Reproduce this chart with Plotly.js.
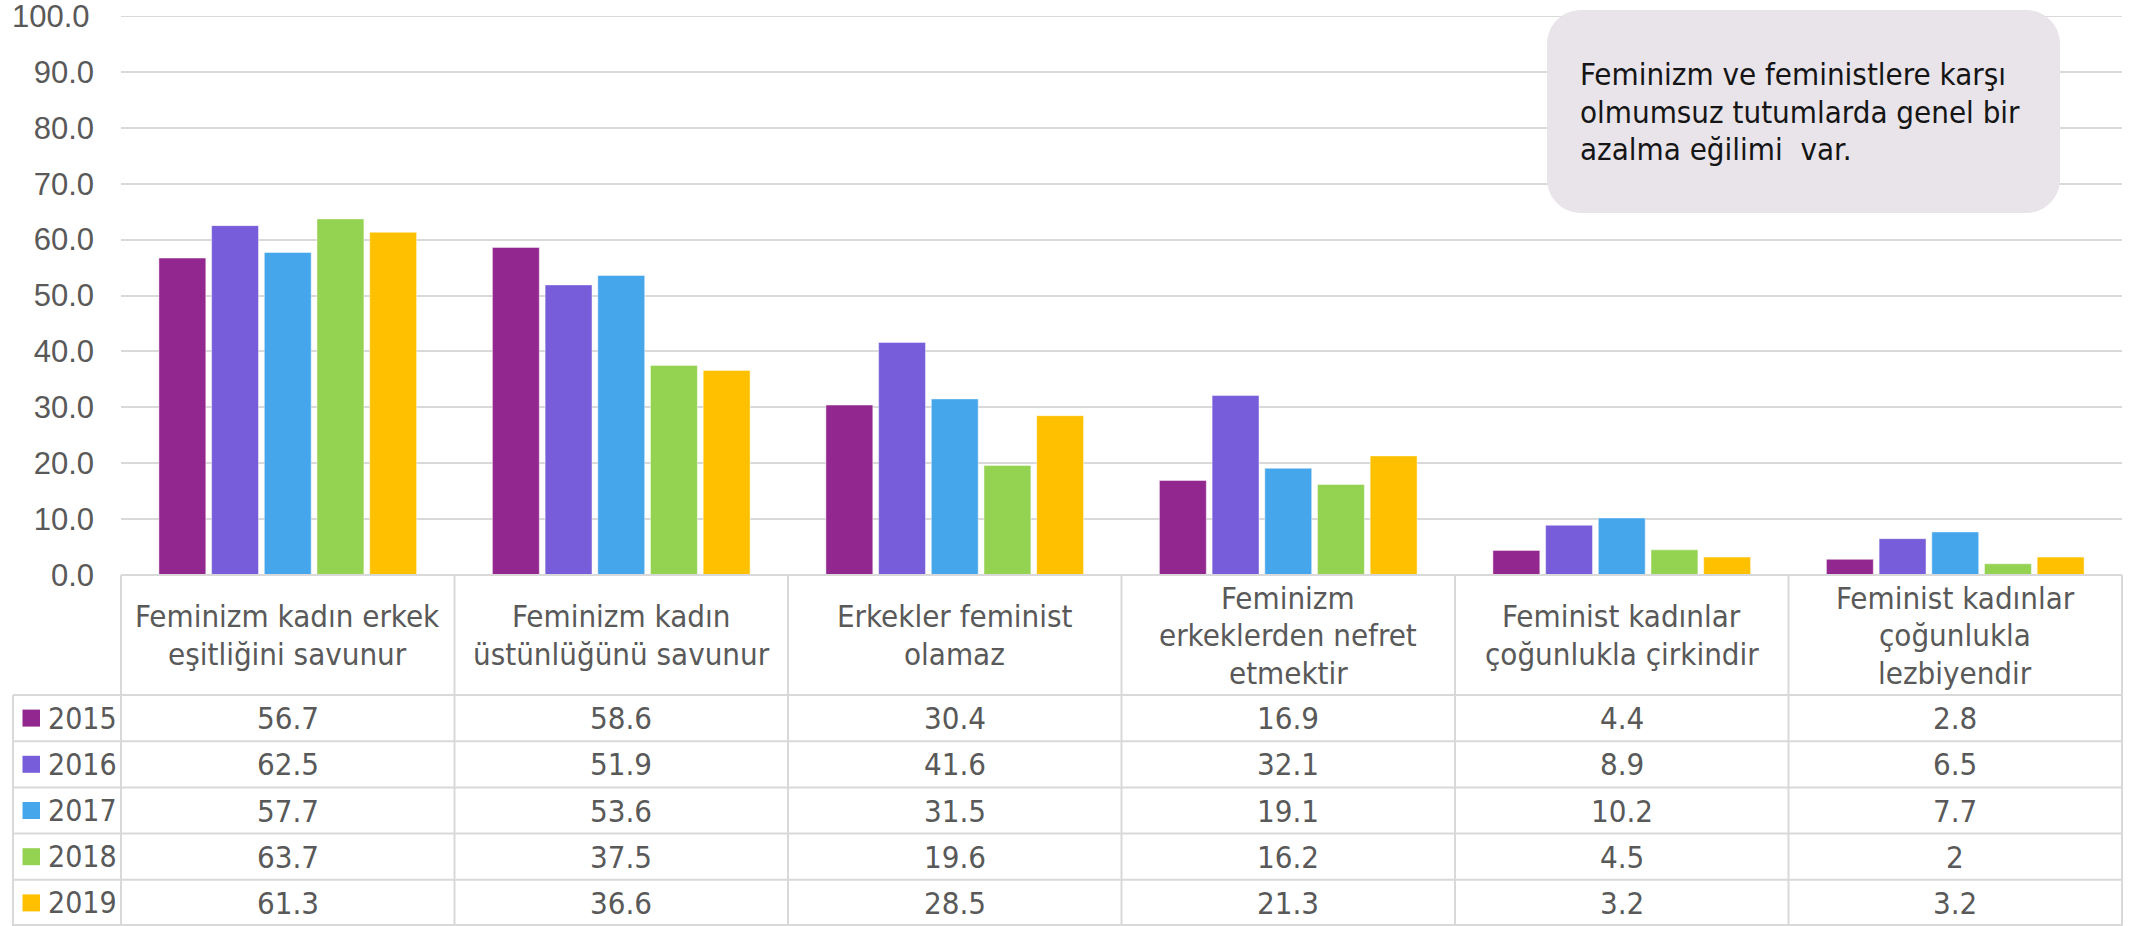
<!DOCTYPE html>
<html>
<head>
<meta charset="utf-8">
<script src="https://cdn.plot.ly/plotly-3.0.1.min.js"></script>
<style>
  html, body { margin: 0; padding: 0; background: #ffffff; }
  #chart { width: 2141px; height: 926px; }
</style>
</head>
<body>
<div id="chart"></div>
<script>
// ---------------- DATA ----------------
const categories = [
  'Feminizm kadın erkek eşitliğini savunur',
  'Feminizm kadın üstünlüğünü savunur',
  'Erkekler feminist olamaz',
  'Feminizm erkeklerden nefret etmektir',
  'Feminist kadınlar çoğunlukla çirkindir',
  'Feminist kadınlar çoğunlukla lezbiyendir'
];
const headerLabels = [
  'Feminizm kadın erkek<br>eşitliğini savunur',
  'Feminizm kadın<br>üstünlüğünü savunur',
  'Erkekler feminist<br>olamaz',
  'Feminizm<br>erkeklerden nefret<br>etmektir',
  'Feminist kadınlar<br>çoğunlukla çirkindir',
  'Feminist kadınlar<br>çoğunlukla<br>lezbiyendir'
];
const years = ['2015', '2016', '2017', '2018', '2019'];
const values2015 = [56.7, 58.6, 30.4, 16.9, 4.4, 2.8];
const values2016 = [62.5, 51.9, 41.6, 32.1, 8.9, 6.5];
const values2017 = [57.7, 53.6, 31.5, 19.1, 10.2, 7.7];
const values2018 = [63.7, 37.5, 19.6, 16.2, 4.5, 2];
const values2019 = [61.3, 36.6, 28.5, 21.3, 3.2, 3.2];
const yTickValues = [0, 10, 20, 30, 40, 50, 60, 70, 80, 90, 100];
const calloutText = 'Feminizm ve feministlere karşı<br>olmumsuz tutumlarda genel bir<br>azalma eğilimi  var.';

// ---------------- STYLE / LAYOUT ----------------
const seriesValues = [values2015, values2016, values2017, values2018, values2019];
const colors = ['#92278F', '#775DD9', '#46A6EC', '#94D251', '#FFC000'];

const W = 2141, H = 926;
const PL = 121, PR = 2122, PT = 16, PB = 575;
const xp = X => (X - PL) / (PR - PL);
const yp = Y => (PB - Y) / (PB - PT);

const tableFont = 'DejaVu Sans Condensed, DejaVu Sans, sans-serif';
const gray = '#595959';
const lineColor = '#D9D9D9';

const headerTop = 575, headerBottom = 695;
const rowH = (926 - headerBottom) / 5;
const tableLeft = 13;

const traces = years.map((yr, s) => ({
  type: 'bar',
  name: yr,
  x: categories,
  y: seriesValues[s],
  marker: { color: colors[s], line: { color: 'rgba(255,255,255,0.45)', width: 1 } },
  hoverinfo: 'x+y+name'
}));

const shapes = [];
const annotations = [];

// top gridline (100) drawn explicitly at the plot edge
shapes.push({ type: 'line', xref: 'paper', yref: 'y', x0: 0, x1: 1,
  y0: yTickValues[yTickValues.length - 1], y1: yTickValues[yTickValues.length - 1],
  line: { color: lineColor, width: 2 }, layer: 'below' });

// table vertical lines (category boundaries)
for (let i = 0; i <= categories.length; i++) {
  const x = i / categories.length;
  shapes.push({ type: 'line', xref: 'paper', yref: 'paper', x0: x, x1: x,
    y0: yp(headerTop), y1: yp(H), line: { color: lineColor, width: 2 }, layer: 'above' });
}
// left border of year column
shapes.push({ type: 'line', xref: 'paper', yref: 'paper', x0: xp(tableLeft), x1: xp(tableLeft),
  y0: yp(headerBottom), y1: yp(H), line: { color: lineColor, width: 2 }, layer: 'above' });
// top line of table (axis line)
shapes.push({ type: 'line', xref: 'paper', yref: 'paper', x0: 0, x1: 1,
  y0: yp(headerTop), y1: yp(headerTop), line: { color: lineColor, width: 2 }, layer: 'above' });
// row lines
for (let r = 0; r <= years.length; r++) {
  const Y = Math.min(headerBottom + r * rowH, H - 1);
  shapes.push({ type: 'line', xref: 'paper', yref: 'paper', x0: xp(tableLeft), x1: 1,
    y0: yp(Y), y1: yp(Y), line: { color: lineColor, width: 2 }, layer: 'above' });
}

// header labels, one annotation per line
const headerCenter = (headerTop + headerBottom) / 2;
const headerLineGap = 37.5;
categories.forEach((cat, i) => {
  const lines = headerLabels[i].split('<br>');
  lines.forEach((ln, k) => {
    const Y = headerCenter + (k - (lines.length - 1) / 2) * headerLineGap;
    annotations.push({ xref: 'x', yref: 'paper', x: cat, y: yp(Y), text: ln,
      showarrow: false, xanchor: 'center', yanchor: 'middle',
      font: { family: tableFont, size: 31, color: gray } });
  });
});

// rows: legend squares, years, values
years.forEach((yr, s) => {
  const cy = headerBottom + (s + 0.5) * rowH;
  shapes.push({ type: 'rect', xref: 'paper', yref: 'paper',
    x0: xp(22.5), x1: xp(40), y0: yp(cy - 8.5), y1: yp(cy + 8.5),
    fillcolor: colors[s], line: { width: 0 }, layer: 'above' });
  annotations.push({ xref: 'paper', yref: 'paper', x: xp(46), y: yp(cy), text: yr,
    showarrow: false, xanchor: 'left', yanchor: 'middle',
    font: { family: tableFont, size: 30, color: gray } });
  categories.forEach((cat, i) => {
    annotations.push({ xref: 'x', yref: 'paper', x: cat, y: yp(cy), text: String(seriesValues[s][i]),
      showarrow: false, xanchor: 'center', yanchor: 'middle',
      font: { family: tableFont, size: 31, color: gray } });
  });
});

// y tick label for the top value (plot edge)
annotations.push({ xref: 'paper', yref: 'y', x: xp(92), y: yTickValues[yTickValues.length - 1],
  text: yTickValues[yTickValues.length - 1].toFixed(1), showarrow: false,
  xanchor: 'right', yanchor: 'middle',
  font: { family: 'Liberation Sans, Arial, sans-serif', size: 31, color: gray } });

// callout rounded box
function roundedPath(x0, y0, x1, y1, r) {
  const k = 0.5523 * r;
  const P = (X, Y) => xp(X) + ',' + yp(Y);
  return 'M' + P(x0 + r, y0) +
    ' L' + P(x1 - r, y0) +
    ' C' + P(x1 - r + k, y0) + ' ' + P(x1, y0 + r - k) + ' ' + P(x1, y0 + r) +
    ' L' + P(x1, y1 - r) +
    ' C' + P(x1, y1 - r + k) + ' ' + P(x1 - r + k, y1) + ' ' + P(x1 - r, y1) +
    ' L' + P(x0 + r, y1) +
    ' C' + P(x0 + r - k, y1) + ' ' + P(x0, y1 - r + k) + ' ' + P(x0, y1 - r) +
    ' L' + P(x0, y0 + r) +
    ' C' + P(x0, y0 + r - k) + ' ' + P(x0 + r - k, y0) + ' ' + P(x0 + r, y0) + ' Z';
}
shapes.push({ type: 'path', xref: 'paper', yref: 'paper',
  path: roundedPath(1547, 10, 2060, 213, 34),
  fillcolor: '#E8E4EA', line: { width: 0 }, layer: 'above' });

const calloutLines = calloutText.split('<br>');
calloutLines.forEach((ln, k) => {
  const Y = 112 + (k - 1) * 37.5;
  annotations.push({ xref: 'paper', yref: 'paper', x: xp(1578), y: yp(Y), text: ln,
    showarrow: false, xanchor: 'left', yanchor: 'middle',
    font: { family: tableFont, size: 31, color: '#151515' } });
});

const layout = {
  width: W, height: H, autosize: false,
  margin: { l: PL, r: W - PR, t: PT, b: H - PB, pad: 0 },
  paper_bgcolor: '#ffffff', plot_bgcolor: '#ffffff',
  barmode: 'group', bargap: 0.21, bargroupgap: 0.11,
  showlegend: false,
  xaxis: { type: 'category', range: [-0.5, 5.5], showticklabels: false, showgrid: false,
    zeroline: false, showline: false, ticks: '', fixedrange: true, automargin: false },
  yaxis: { range: [0, 100], tickmode: 'array', tickvals: yTickValues, tickformat: '.1f', showgrid: true,
    gridcolor: lineColor, gridwidth: 2, zeroline: false, showline: false, ticks: '',
    ticklabelstandoff: 26, automargin: false, fixedrange: true,
    tickfont: { family: 'Liberation Sans, Arial, sans-serif', size: 31, color: gray } },
  shapes: shapes,
  annotations: annotations
};

Plotly.newPlot('chart', traces, layout, { displayModeBar: false, staticPlot: true });
</script>
</body>
</html>
